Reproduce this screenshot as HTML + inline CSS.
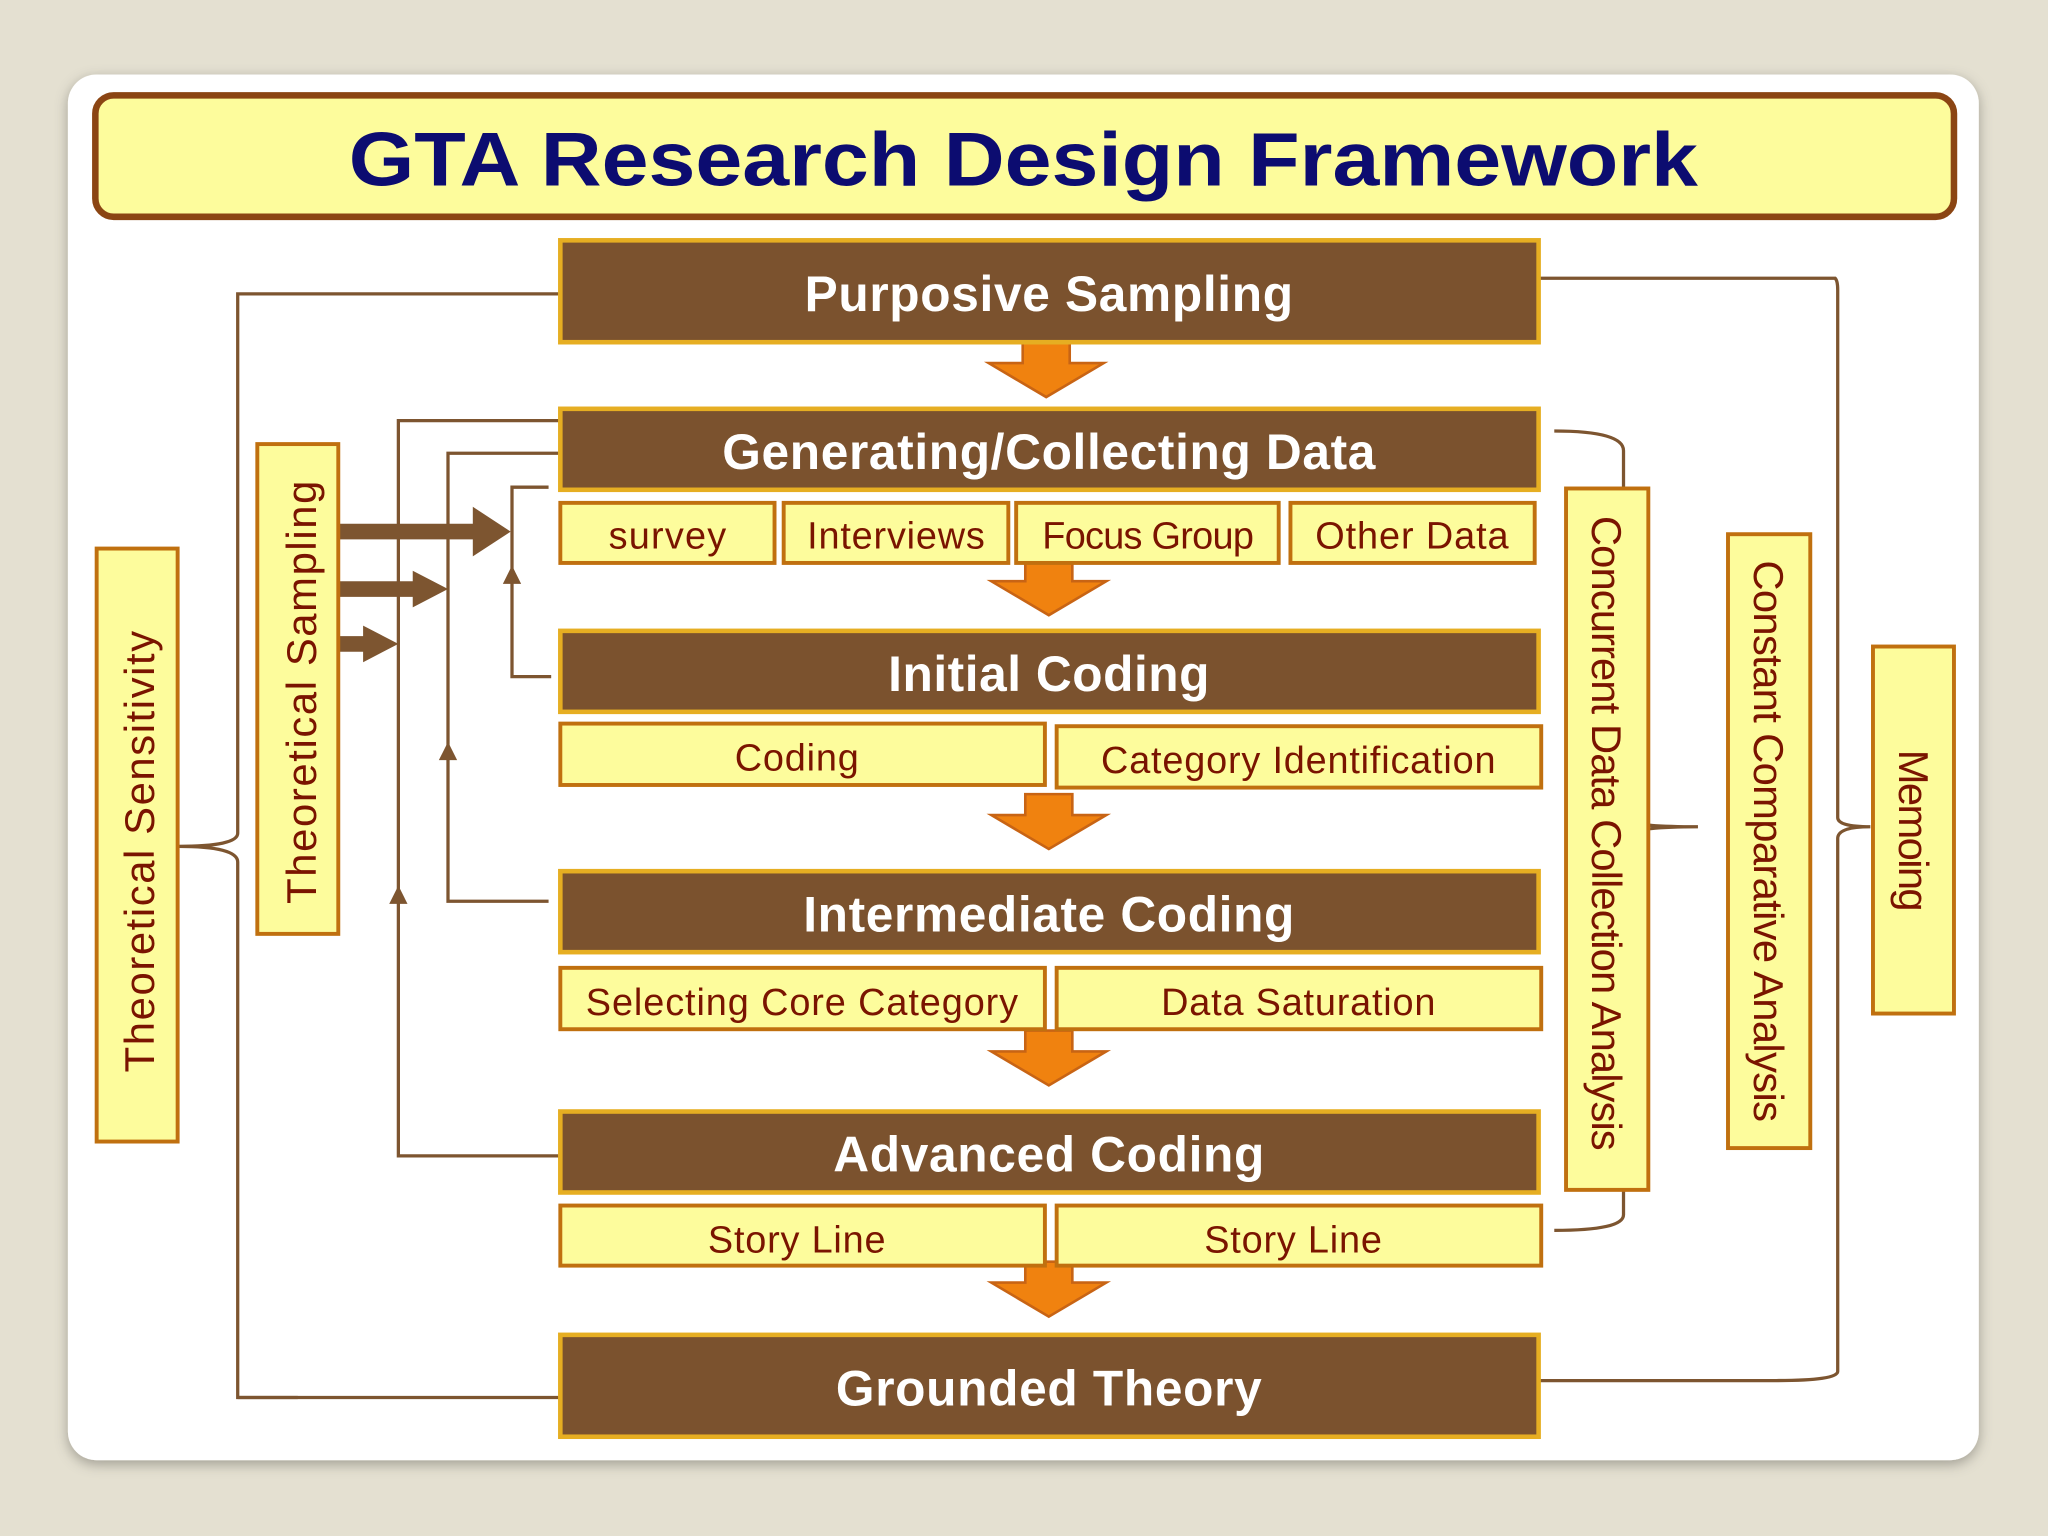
<!DOCTYPE html>
<html><head><meta charset="utf-8"><style>
html,body{margin:0;padding:0;background:#e4e0d1;}
svg{display:block;}
text{font-family:"Liberation Sans",Arial,sans-serif;}
</style></head><body>
<svg width="2048" height="1536" viewBox="0 0 1568 1176" xmlns="http://www.w3.org/2000/svg">
<defs>
<filter id="sh" x="-5%" y="-5%" width="110%" height="110%"><feDropShadow dx="0" dy="3" stdDeviation="5" flood-color="#000" flood-opacity="0.3"/></filter>
<g id="oarrow"><path d="M-18,0 H18 V16 H44 L0,42 L-44,16 H-18 Z" fill="#f0820f" stroke="#c86414" stroke-width="2"/></g>
</defs>
<rect width="1568" height="1176" fill="#e4e0d1"/>
<rect x="52" y="57" width="1463" height="1061" rx="22" fill="#fff" filter="url(#sh)"/>
<!-- title -->
<rect x="73" y="73" width="1423" height="93" rx="14" fill="#fdfc9c" stroke="#8b4513" stroke-width="5"/>
<text x="267" y="142" font-size="58" font-weight="bold" fill="#0c0c70" textLength="1033" lengthAdjust="spacingAndGlyphs">GTA Research Design Framework</text>

<g fill="none" stroke="#7d5530" stroke-width="2.5">
<path d="M428,225 H182 V638 Q182,648 136,648 Q182,648 182,660 V1070 H228"/>
<line x1="182" y1="1070" x2="428" y2="1070"/>
<path d="M1179,213 H1405 Q1407,215 1407,222 V626 Q1407,633 1432,633 Q1407,633 1407,642 V1050 Q1407,1057 1360,1057 H1179"/>
<path d="M1190,330 Q1243,330 1243,345 V626 Q1243,633 1300,633 Q1243,633 1243,642 V930 Q1243,942 1190,942"/>
<path d="M428,322 H305 V885 H428"/>
<path d="M428,347 H343 V690 H420"/>
<path d="M420,373 H392 V518 H422"/>
</g>
<g fill="#7d5530">
<path d="M305,678 l-7,14 h14 Z"/>
<path d="M343,568 l-7,14 h14 Z"/>
<path d="M392,433 l-7,14 h14 Z"/>
<path d="M259,401 H362 V388 L391,407 L362,426 V413 H259 Z"/>
<path d="M259,445 H316 V437 L343,451 L316,465 V457 H259 Z"/>
<path d="M259,487 H278 V479 L305,493 L278,507 V499 H259 Z"/>
</g>

<use href="#oarrow" x="801" y="262"/>
<use href="#oarrow" x="803" y="429"/>
<use href="#oarrow" x="803" y="608"/>
<use href="#oarrow" x="803" y="789"/>
<use href="#oarrow" x="803" y="966"/>

<g fill="#7b522e" stroke="#e6ae22" stroke-width="3.5">
<rect x="429" y="184" width="749" height="78"/>
<rect x="429" y="313" width="749" height="62"/>
<rect x="429" y="483" width="749" height="62"/>
<rect x="429" y="667" width="749" height="62"/>
<rect x="429" y="851" width="749" height="62"/>
<rect x="429" y="1022" width="749" height="78"/>
</g>
<g fill="#fff" font-weight="bold" font-size="38" text-anchor="middle">
<text x="803" y="238" textLength="374">Purposive Sampling</text>
<text x="803" y="359" textLength="500">Generating/Collecting Data</text>
<text x="803" y="529" textLength="246">Initial Coding</text>
<text x="803" y="713" textLength="376">Intermediate Coding</text>
<text x="803" y="897" textLength="330">Advanced Coding</text>
<text x="803" y="1076" textLength="326">Grounded Theory</text>
</g>

<g fill="#fdfc9c" stroke="#c0700f" stroke-width="3">
<rect x="429" y="385" width="164" height="46"/>
<rect x="600" y="385" width="172" height="46"/>
<rect x="778" y="385" width="201" height="46"/>
<rect x="988" y="385" width="187" height="46"/>
<rect x="429" y="554" width="371" height="47"/>
<rect x="809" y="556" width="371" height="47"/>
<rect x="429" y="741" width="371" height="47"/>
<rect x="809" y="741" width="371" height="47"/>
<rect x="429" y="923" width="371" height="46"/>
<rect x="809" y="923" width="371" height="46"/>
<rect x="74" y="420" width="62" height="454"/>
<rect x="197" y="340" width="62" height="375"/>
<rect x="1199" y="374" width="63" height="537"/>
<rect x="1323" y="409" width="63" height="470"/>
<rect x="1434" y="495" width="62" height="281"/>
</g>
<g fill="#7a1400" font-size="29" text-anchor="middle">
<text x="511" y="420" textLength="90">survey</text>
<text x="686" y="420" textLength="136">Interviews</text>
<text x="879" y="420" textLength="162">Focus Group</text>
<text x="1081" y="420" textLength="148">Other Data</text>
<text x="610" y="590" textLength="95">Coding</text>
<text x="994" y="592" textLength="302">Category Identification</text>
<text x="614" y="777" textLength="331">Selecting Core Category</text>
<text x="994" y="777" textLength="210">Data Saturation</text>
<text x="610" y="959" textLength="136">Story Line</text>
<text x="990" y="959" textLength="136">Story Line</text>
<g font-size="32">
<text transform="translate(118,652) rotate(-90)" textLength="338">Theoretical Sensitivity</text>
<text transform="translate(242,530) rotate(-90)" textLength="324">Theoretical Sampling</text>
<text transform="translate(1219,638) rotate(90)" textLength="486">Concurrent Data Collection Analysis</text>
<text transform="translate(1343,644) rotate(90)" textLength="430">Constant  Comparative Analysis</text>
<text transform="translate(1454,636) rotate(90)" textLength="124">Memoing</text>
</g>
</g>
</svg>
</body></html>
